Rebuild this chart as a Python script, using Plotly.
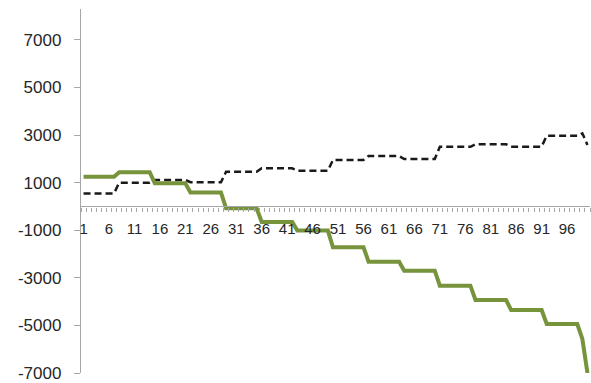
import plotly.graph_objects as go

categories = list(range(1, 101))

# Green series: weekly step values (7-category blocks)
green_levels = [1250, 1440, 975, 585, -80, -650, -1015, -1715, -2320, -2700, -3330, -3930, -4350, -4940]
green_tail = [-5570, -7000]          # categories 99, 100
# Dashed series
dash_levels = [550, 1000, 1115, 1020, 1460, 1605, 1500, 1955, 2120, 1995, 2510, 2615, 2515, 2975]
dash_tail = [3075, 2585]             # categories 99, 100

green = [v for v in green_levels for _ in range(7)] + green_tail
dashed = [v for v in dash_levels for _ in range(7)] + dash_tail

y_ticks = [-7000, -5000, -3000, -1000, 1000, 3000, 5000, 7000]
y_tick_text = [str(v) for v in y_ticks]
x_tick_vals = list(range(1, 101, 5))
x_tick_text = [str(v) for v in x_tick_vals]

Y_MIN, Y_MAX = -7000, 8300

fig = go.Figure()
fig.add_trace(go.Scatter(
    x=categories, y=dashed, mode="lines",
    line=dict(color="#1a1a1a", width=2.5, dash="7px,4px"),
    showlegend=False))
fig.add_trace(go.Scatter(
    x=categories, y=green, mode="lines",
    line=dict(color="#77933C", width=4),
    showlegend=False))

zero_frac = (0 - Y_MIN) / (Y_MAX - Y_MIN)

fig.update_layout(
    width=591, height=383,
    margin=dict(l=81, r=1, t=9, b=10, autoexpand=False),
    paper_bgcolor="white", plot_bgcolor="white",
    font=dict(family="Liberation Sans, Arial, sans-serif", color="#262626"),
    xaxis=dict(
        range=[0.5, 100.5], anchor="free", position=zero_frac,
        automargin=False,
        showline=True, linecolor="#a6a6a6", linewidth=1.3,
        showgrid=False, zeroline=False,
        tickmode="array", tickvals=x_tick_vals, ticktext=x_tick_text,
        ticks="", tickfont=dict(size=15, color="#262626"),
        ticklabelstandoff=8,
        minor=dict(tick0=0.5, dtick=1, ticks="outside", ticklen=4,
                   tickcolor="#a6a6a6", tickwidth=1, showgrid=False),
    ),
    yaxis=dict(
        range=[Y_MIN, Y_MAX], automargin=False,
        showline=True, linecolor="#a6a6a6", linewidth=1.3,
        showgrid=False, zeroline=False,
        tickmode="array", tickvals=y_ticks, ticktext=y_tick_text,
        ticks="outside", ticklen=6, tickcolor="#a6a6a6", tickwidth=1,
        tickfont=dict(size=17, color="#262626"),
        ticklabelstandoff=9,
    ),
)

fig.write_html("out.html", config={"displayModeBar": False})

# remove the browser's default 8px page margin so the figure sits at the window origin
with open("out.html", "r", encoding="utf-8") as f:
    html = f.read()
html = html.replace("<head>", "<head><style>html,body{margin:0;padding:0;}</style>", 1)
with open("out.html", "w", encoding="utf-8") as f:
    f.write(html)
